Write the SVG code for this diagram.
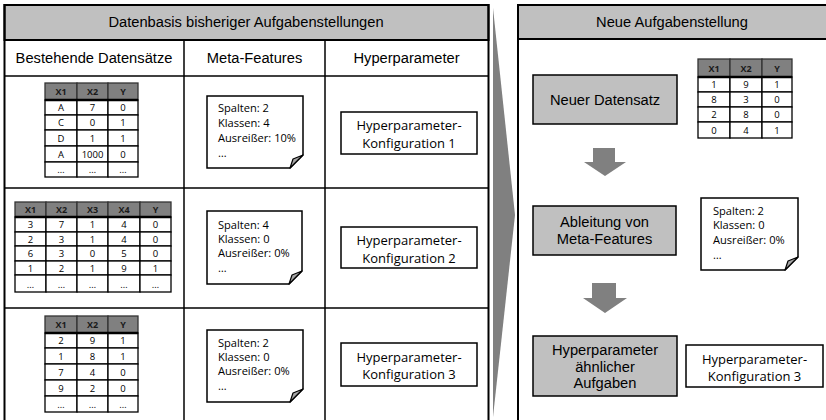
<svg xmlns="http://www.w3.org/2000/svg" width="826" height="420" viewBox="0 0 826 420">
<style>
.pan{fill:none;stroke:#000;stroke-width:2}
.hd{fill:#c0c0c0;stroke:#000;stroke-width:2}
.ln{stroke:#000;stroke-width:1.5}
.t15{font-family:"Liberation Sans",Arial,sans-serif;font-size:14.7px;fill:#000;text-anchor:middle}
.cal{font-family:"Open Sans",sans-serif;font-size:11.1px;fill:#000}
.hp{font-family:"Open Sans",sans-serif;font-size:13px;fill:#000;text-anchor:middle}
.tc{font-family:"Open Sans",sans-serif;font-size:9.5px;text-anchor:middle;fill:#000}
.th{font-weight:bold;fill:#1a1a1a;font-size:9px}
.cell{fill:#fff;stroke:#000;stroke-width:1.3}
.hcell{fill:#808080;stroke:#333;stroke-width:1.3}
.hline{stroke:#000;stroke-width:2.5}
.note{fill:#fff;stroke:#000;stroke-width:1.5}
.fold{fill:#a6a6a6;stroke:#000;stroke-width:1.2;stroke-linejoin:round}
.box{fill:#fff;stroke:#000;stroke-width:1.5}
.gbox{fill:#c0c0c0;stroke:#000;stroke-width:1.5}
.arr{fill:#808080}
</style>
<rect width="826" height="420" fill="#fff"/>

<g id="left-panel">
<rect class="hd" x="4.5" y="5" width="484" height="35"/>
<rect class="pan" x="4.5" y="5" width="484" height="420"/>
<line class="ln" x1="4.5" y1="76" x2="488.5" y2="76"/>
<line class="ln" x1="4.5" y1="188" x2="488.5" y2="188"/>
<line class="ln" x1="4.5" y1="308" x2="488.5" y2="308"/>
<line class="ln" x1="184" y1="40" x2="184" y2="420"/>
<line class="ln" x1="325" y1="40" x2="325" y2="420"/>
<text class="t15" x="246" y="27">Datenbasis bisheriger Aufgabenstellungen</text>
<text class="t15" x="94" y="63">Bestehende Datensätze</text>
<text class="t15" x="254.5" y="63">Meta-Features</text>
<text class="t15" x="406.5" y="63">Hyperparameter</text>
</g>

<g id="table-1">
<rect class="hcell" x="45" y="83" width="32" height="17"/><rect class="hcell" x="77" y="83" width="31" height="17"/><rect class="hcell" x="108" y="83" width="30" height="17"/>
<g class="cell">
<rect x="45" y="100" width="32" height="15"/><rect x="77" y="100" width="31" height="15"/><rect x="108" y="100" width="30" height="15"/>
<rect x="45" y="115" width="32" height="15"/><rect x="77" y="115" width="31" height="15"/><rect x="108" y="115" width="30" height="15"/>
<rect x="45" y="130" width="32" height="16"/><rect x="77" y="130" width="31" height="16"/><rect x="108" y="130" width="30" height="16"/>
<rect x="45" y="146" width="32" height="16"/><rect x="77" y="146" width="31" height="16"/><rect x="108" y="146" width="30" height="16"/>
<rect x="45" y="162" width="32" height="15"/><rect x="77" y="162" width="31" height="15"/><rect x="108" y="162" width="30" height="15"/>
</g>
<line class="hline" x1="45" y1="100" x2="138" y2="100"/>
<g class="tc">
<text class="th" x="61" y="95">X1</text><text class="th" x="92.5" y="95">X2</text><text class="th" x="123" y="95">Y</text>
<text x="61" y="111">A</text><text x="92.5" y="111">7</text><text x="123" y="111">0</text>
<text x="61" y="126">C</text><text x="92.5" y="126">0</text><text x="123" y="126">1</text>
<text x="61" y="142">D</text><text x="92.5" y="142">1</text><text x="123" y="142">1</text>
<text x="61" y="158">A</text><text x="92.5" y="158">1000</text><text x="123" y="158">0</text>
<text x="61" y="173">…</text><text x="92.5" y="173">…</text><text x="123" y="173">…</text>
</g>
</g>

<g id="table-2">
<rect class="hcell" x="15" y="202" width="31" height="15"/><rect class="hcell" x="46" y="202" width="31" height="15"/><rect class="hcell" x="77" y="202" width="31" height="15"/><rect class="hcell" x="108" y="202" width="32" height="15"/><rect class="hcell" x="140" y="202" width="31" height="15"/>
<g class="cell">
<rect x="15" y="217" width="31" height="15"/><rect x="46" y="217" width="31" height="15"/><rect x="77" y="217" width="31" height="15"/><rect x="108" y="217" width="32" height="15"/><rect x="140" y="217" width="31" height="15"/>
<rect x="15" y="232" width="31" height="14"/><rect x="46" y="232" width="31" height="14"/><rect x="77" y="232" width="31" height="14"/><rect x="108" y="232" width="32" height="14"/><rect x="140" y="232" width="31" height="14"/>
<rect x="15" y="246" width="31" height="15"/><rect x="46" y="246" width="31" height="15"/><rect x="77" y="246" width="31" height="15"/><rect x="108" y="246" width="32" height="15"/><rect x="140" y="246" width="31" height="15"/>
<rect x="15" y="261" width="31" height="14"/><rect x="46" y="261" width="31" height="14"/><rect x="77" y="261" width="31" height="14"/><rect x="108" y="261" width="32" height="14"/><rect x="140" y="261" width="31" height="14"/>
<rect x="15" y="275" width="31" height="17"/><rect x="46" y="275" width="31" height="17"/><rect x="77" y="275" width="31" height="17"/><rect x="108" y="275" width="32" height="17"/><rect x="140" y="275" width="31" height="17"/>
</g>
<line class="hline" x1="15" y1="217" x2="171" y2="217"/>
<g class="tc">
<text class="th" x="30.5" y="213">X1</text><text class="th" x="61.5" y="213">X2</text><text class="th" x="92.5" y="213">X3</text><text class="th" x="124" y="213">X4</text><text class="th" x="155.5" y="213">Y</text>
<text x="30.5" y="228">3</text><text x="61.5" y="228">7</text><text x="92.5" y="228">1</text><text x="124" y="228">4</text><text x="155.5" y="228">0</text>
<text x="30.5" y="242.5">2</text><text x="61.5" y="242.5">3</text><text x="92.5" y="242.5">1</text><text x="124" y="242.5">4</text><text x="155.5" y="242.5">0</text>
<text x="30.5" y="257">6</text><text x="61.5" y="257">3</text><text x="92.5" y="257">0</text><text x="124" y="257">5</text><text x="155.5" y="257">0</text>
<text x="30.5" y="271.5">1</text><text x="61.5" y="271.5">2</text><text x="92.5" y="271.5">1</text><text x="124" y="271.5">9</text><text x="155.5" y="271.5">1</text>
<text x="30.5" y="288">…</text><text x="61.5" y="288">…</text><text x="92.5" y="288">…</text><text x="124" y="288">…</text><text x="155.5" y="288">…</text>
</g>
</g>

<g id="table-3">
<rect class="hcell" x="45" y="316" width="32" height="17"/><rect class="hcell" x="77" y="316" width="31" height="17"/><rect class="hcell" x="108" y="316" width="30" height="17"/>
<g class="cell">
<rect x="45" y="333" width="32" height="15"/><rect x="77" y="333" width="31" height="15"/><rect x="108" y="333" width="30" height="15"/>
<rect x="45" y="348" width="32" height="16"/><rect x="77" y="348" width="31" height="16"/><rect x="108" y="348" width="30" height="16"/>
<rect x="45" y="364" width="32" height="16"/><rect x="77" y="364" width="31" height="16"/><rect x="108" y="364" width="30" height="16"/>
<rect x="45" y="380" width="32" height="16"/><rect x="77" y="380" width="31" height="16"/><rect x="108" y="380" width="30" height="16"/>
<rect x="45" y="396" width="32" height="16"/><rect x="77" y="396" width="31" height="16"/><rect x="108" y="396" width="30" height="16"/>
</g>
<line class="hline" x1="45" y1="333" x2="138" y2="333"/>
<g class="tc">
<text class="th" x="61" y="328">X1</text><text class="th" x="92.5" y="328">X2</text><text class="th" x="123" y="328">Y</text>
<text x="61" y="344">2</text><text x="92.5" y="344">9</text><text x="123" y="344">1</text>
<text x="61" y="360">1</text><text x="92.5" y="360">8</text><text x="123" y="360">1</text>
<text x="61" y="376">7</text><text x="92.5" y="376">4</text><text x="123" y="376">0</text>
<text x="61" y="392">9</text><text x="92.5" y="392">2</text><text x="123" y="392">0</text>
<text x="61" y="408">…</text><text x="92.5" y="408">…</text><text x="123" y="408">…</text>
</g>
</g>

<g id="note-1">
<path class="note" d="M207,96 H303 V155 L290,168 H207 Z"/>
<path class="fold" d="M303,155 L290,168 L293,159 Z"/>
<g class="cal"><text x="218" y="112">Spalten: 2</text><text x="218" y="127">Klassen: 4</text><text x="218" y="142">Ausreißer: 10%</text><text x="218" y="157">…</text></g>
</g>
<g id="note-2">
<path class="note" d="M207,211 H302 V271 L289,284 H207 Z"/>
<path class="fold" d="M302,271 L289,284 L292,275 Z"/>
<g class="cal"><text x="218" y="229">Spalten: 4</text><text x="218" y="243">Klassen: 0</text><text x="218" y="257">Ausreißer: 0%</text><text x="218" y="272">…</text></g>
</g>
<g id="note-3">
<path class="note" d="M207,330 H303 V389 L290,402 H207 Z"/>
<path class="fold" d="M303,389 L290,402 L293,393 Z"/>
<g class="cal"><text x="218" y="347">Spalten: 2</text><text x="218" y="361">Klassen: 0</text><text x="218" y="375">Ausreißer: 0%</text><text x="218" y="390">…</text></g>
</g>

<g id="hp-1">
<rect class="box" x="341" y="112" width="136" height="42"/>
<text class="hp" x="409" y="130">Hyperparameter-</text><text class="hp" x="409" y="148">Konfiguration 1</text>
</g>
<g id="hp-2">
<rect class="box" x="341" y="227" width="136" height="41"/>
<text class="hp" x="409" y="245">Hyperparameter-</text><text class="hp" x="409" y="263">Konfiguration 2</text>
</g>
<g id="hp-3">
<rect class="box" x="341" y="343" width="136" height="43"/>
<text class="hp" x="409" y="362">Hyperparameter-</text><text class="hp" x="409" y="379">Konfiguration 3</text>
</g>

<g id="right-panel">
<rect class="hd" x="518" y="5" width="312" height="34"/>
<rect class="pan" x="518" y="5" width="312" height="420"/>
<text class="t15" x="672" y="27">Neue Aufgabenstellung</text>
</g>

<g id="neuer-datensatz">
<rect class="gbox" x="533" y="75" width="144" height="49"/>
<text class="t15" x="605" y="105">Neuer Datensatz</text>
</g>

<g id="table-new">
<rect class="hcell" x="698" y="59" width="32" height="18"/><rect class="hcell" x="730" y="59" width="32" height="18"/><rect class="hcell" x="762" y="59" width="30" height="18"/>
<g class="cell">
<rect x="698" y="77" width="32" height="15"/><rect x="730" y="77" width="32" height="15"/><rect x="762" y="77" width="30" height="15"/>
<rect x="698" y="92" width="32" height="15"/><rect x="730" y="92" width="32" height="15"/><rect x="762" y="92" width="30" height="15"/>
<rect x="698" y="107" width="32" height="15"/><rect x="730" y="107" width="32" height="15"/><rect x="762" y="107" width="30" height="15"/>
<rect x="698" y="122" width="32" height="16"/><rect x="730" y="122" width="32" height="16"/><rect x="762" y="122" width="30" height="16"/>
</g>
<line class="hline" x1="698" y1="77" x2="792" y2="77"/>
<g class="tc">
<text class="th" x="714" y="71.5">X1</text><text class="th" x="746" y="71.5">X2</text><text class="th" x="777" y="71.5">Y</text>
<text x="714" y="88">1</text><text x="746" y="88">9</text><text x="777" y="88">1</text>
<text x="714" y="103">8</text><text x="746" y="103">3</text><text x="777" y="103">0</text>
<text x="714" y="118">2</text><text x="746" y="118">8</text><text x="777" y="118">0</text>
<text x="714" y="134">0</text><text x="746" y="134">4</text><text x="777" y="134">1</text>
</g>
</g>

<g id="ableitung">
<rect class="gbox" x="533" y="206" width="143" height="49"/>
<text class="t15" x="604.5" y="227">Ableitung von</text><text class="t15" x="604.5" y="244">Meta-Features</text>
</g>

<g id="note-new">
<path class="note" d="M701,198 H798 V257 L785,270 H701 Z"/>
<path class="fold" d="M798,257 L785,270 L788,261 Z"/>
<g class="cal"><text x="713" y="215">Spalten: 2</text><text x="713" y="229">Klassen: 0</text><text x="713" y="244">Ausreißer: 0%</text><text x="713" y="259">…</text></g>
</g>

<g id="hp-aehnlich">
<rect class="gbox" x="533" y="336" width="144" height="60"/>
<text class="t15" x="605" y="355">Hyperparameter</text><text class="t15" x="605" y="372">ähnlicher</text><text class="t15" x="605" y="388">Aufgaben</text>
</g>

<g id="hp-new">
<rect class="box" x="686" y="345" width="137" height="42"/>
<text class="hp" x="754.5" y="364">Hyperparameter-</text><text class="hp" x="754.5" y="381">Konfiguration 3</text>
</g>

<g id="connectors">
<polygon class="arr" points="493,8 515,215 493,417"/>
<polygon class="arr" points="593,148 615,148 615,162 626,162 605,176 584,162 593,162"/>
<polygon class="arr" points="592,283 616,283 616,298 627,298 605,313 583,298 592,298"/>
</g>
</svg>
